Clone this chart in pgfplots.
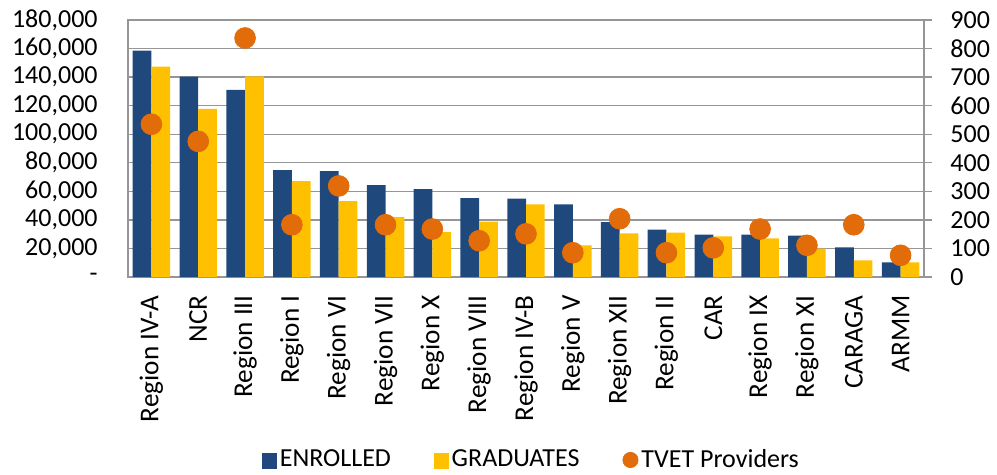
\documentclass[border=0pt]{standalone}
\usepackage{fontspec}
\setmainfont{Carlito}
\usepackage{pgfplots}
\pgfplotsset{compat=1.18}
\definecolor{enr}{RGB}{31,73,125}
\definecolor{grd}{RGB}{255,192,0}
\definecolor{tvet}{RGB}{227,108,10}
\definecolor{gridc}{RGB}{150,150,150}
\begin{document}
\begin{tikzpicture}
\useasboundingbox (-64bp,-99bp) rectangle (434.5bp,138.5bp);
\begin{axis}[
  scale only axis, width=398bp, height=128.5bp,
  xmin=-0.5, xmax=16.5, ymin=0, ymax=180000,
  xtick={0,...,16},
  xticklabels={Region IV-A, NCR, Region III, Region I, Region VI, Region VII, Region X, Region VIII, Region IV-B, Region V, Region XII, Region II, CAR, Region IX, Region XI, CARAGA, ARMM},
  x tick label style={rotate=90, anchor=east, inner sep=0pt, font=\fontsize{13.6bp}{15bp}\selectfont},
  xticklabel shift=9bp,
  ytick={0,20000,40000,60000,80000,100000,120000,140000,160000,180000},
  yticklabels={{-\hspace{6.5bp}},{20,000},{40,000},{60,000},{80,000},{100,000},{120,000},{140,000},{160,000},{180,000}},
  scaled y ticks=false,
  y tick label style={anchor=east, inner sep=0pt, font=\fontsize{13bp}{15bp}\selectfont},
  yticklabel shift=15bp,
  major tick length=0pt,
  ymajorgrids, grid style={gridc, line width=0.7pt},
  axis line style={gridc, line width=0.7pt},
]
\addplot[ybar, bar width=0.4, bar shift=-0.2, fill=enr, draw=none] coordinates {
(0,158500) (1,140300) (2,131000) (3,74900) (4,74200) (5,64400) (6,61600) (7,55300) (8,54900)
(9,50900) (10,38500) (11,33200) (12,29700) (13,29700) (14,29000) (15,20800) (16,10300)};
\addplot[ybar, bar width=0.4, bar shift=0.2, fill=grd, draw=none] coordinates {
(0,147300) (1,117700) (2,140600) (3,67200) (4,53200) (5,42000) (6,31500) (7,38700) (8,50900)
(9,22200) (10,30600) (11,31100) (12,28500) (13,27100) (14,19900) (15,11700) (16,10300)};
\end{axis}
\begin{axis}[
  scale only axis, width=398bp, height=128.5bp,
  xmin=-0.5, xmax=16.5, ymin=0, ymax=900,
  axis y line*=right, axis x line=none,
  ytick={0,100,200,300,400,500,600,700,800,900},
  yticklabels={0,100,200,300,400,500,600,700,800,900},
  tick align=outside, major tick length=4bp,
  tick style={gridc, line width=0.7pt},
  axis line style={gridc, line width=0.7pt},
  y tick label style={anchor=west, inner sep=0pt},
  yticklabel shift=9bp,
  tick label style={font=\fontsize{13bp}{15bp}\selectfont},
  legend style={at={(0.5075,-0.712)}, anchor=center, draw=none, fill=none,
    font=\fontsize{13bp}{15bp}\selectfont, legend columns=3,
    /tikz/every even column/.append style={column sep=20bp},
    nodes={inner sep=1.5bp}},
]
\addlegendimage{legend image code/.code={\fill[enr] (0bp,-4bp) rectangle (7bp,3.5bp);}}
\addlegendentry{ENROLLED}
\addlegendimage{legend image code/.code={\fill[grd] (0bp,-4bp) rectangle (7bp,3.5bp);}}
\addlegendentry{GRADUATES}
\addlegendimage{legend image code/.code={\fill[tvet] (4bp,0bp) circle (3.8bp);}}
\addlegendentry{TVET Providers}
\addplot[only marks, mark=*, mark size=5.2bp, color=tvet, forget plot] coordinates {
(0,535) (1,475) (2,837) (3,183) (4,319) (5,183) (6,168) (7,127) (8,151)
(9,85) (10,204) (11,85) (12,102) (13,168) (14,111) (15,183) (16,76)};
\end{axis}
\end{tikzpicture}
\end{document}
